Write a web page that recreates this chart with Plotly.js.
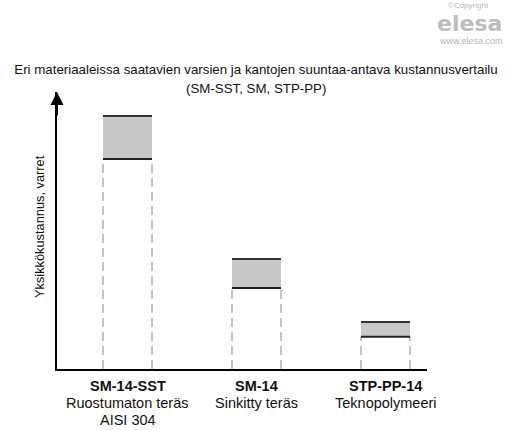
<!DOCTYPE html>
<html><head><meta charset="utf-8">
<script src="https://cdn.plot.ly/plotly-3.0.1.min.js"></script>
<style>html,body{margin:0;padding:0;background:#fff}</style>
</head><body><div id="chart" style="width:512px;height:430px"></div>
<script>
const codes = ["SM-14-SST", "SM-14", "STP-PP-14"];
const materials = ["Ruostumaton teräs", "Sinkitty teräs", "Teknopolymeeri"];
const extraLines = ["AISI 304", "", ""];
const costMin = [75.8, 29.2, 11.6];
const costMax = [91.3, 39.7, 17.0];
const titleLines = ["Eri materiaaleissa saatavien varsien ja kantojen suuntaa-antava kustannusvertailu", "(SM-SST, SM, STP-PP)"];
const yTitle = "Yksikkökustannus, varret";
const logoLines = ["©Copyright", "elesa", "www.elesa.com"];

const FONT = "Liberation Sans, Arial, sans-serif";
const idx = codes.map((_, i) => i);
const hw = 0.19;

const topX = [], topY = [], minX = [], minY = [], dashX = [], dashY = [];
idx.forEach(i => {
  topX.push(i - hw, i + hw, null); topY.push(costMax[i], costMax[i], null);
  minX.push(i - hw, i + hw, null); minY.push(costMin[i], costMin[i], null);
  dashX.push(i - hw, i - hw, null, i + hw, i + hw, null);
  dashY.push(0, costMin[i], null, 0, costMin[i], null);
});

const traces = [
  {type: 'bar', x: idx, base: costMin, y: costMax.map((v, i) => v - costMin[i]),
   width: 2 * hw, marker: {color: '#c8c8c8', line: {width: 0}}, hoverinfo: 'skip'},
  {type: 'scatter', mode: 'lines', x: dashX, y: dashY,
   line: {color: '#b0b0b0', width: 1.5, dash: '9px,5px'}, hoverinfo: 'skip'},
  {type: 'scatter', mode: 'lines', x: minX, y: minY,
   line: {color: '#222', width: 2}, hoverinfo: 'skip'},
  {type: 'scatter', mode: 'lines', x: topX, y: topY,
   line: {color: '#333', width: 2}, hoverinfo: 'skip'}
];

const labelFont = {family: FONT, size: 14.5, color: '#111'};
const annotations = [];
idx.forEach(i => {
  annotations.push({x: i, xref: 'x', y: 0, yref: 'paper', yanchor: 'middle', yshift: -17,
    text: '<b>' + codes[i] + '</b>', showarrow: false, font: labelFont});
  annotations.push({x: i, xref: 'x', y: 0, yref: 'paper', yanchor: 'middle', yshift: -33.5,
    text: materials[i], showarrow: false, font: labelFont});
  if (extraLines[i]) annotations.push({x: i, xref: 'x', y: 0, yref: 'paper', yanchor: 'middle', yshift: -50.5,
    text: extraLines[i], showarrow: false, font: labelFont});
});
annotations.push({x: 0, xref: 'paper', xanchor: 'center', xshift: -18, y: (369 - 227) / 277, yref: 'paper',
  yanchor: 'middle', text: yTitle, textangle: -90, showarrow: false,
  font: {family: FONT, size: 12.8, color: '#111'}});
// second title line
annotations.push({x: (256 - 57) / 370, xref: 'paper', xanchor: 'center', y: (369 - 88) / 277, yref: 'paper',
  yanchor: 'middle', text: titleLines[1], showarrow: false, font: {family: FONT, size: 13.3, color: '#111'}});
// arrow head on the y axis
annotations.push({x: -0.5465, xref: 'x', y: 100, yref: 'y', ax: 0, ay: 25, axref: 'pixel', ayref: 'pixel',
  showarrow: true, arrowhead: 2, arrowsize: 1.3, arrowwidth: 2, arrowcolor: '#000', text: '', standoff: 0});
// logo
annotations.push({x: (491 - 57) / 370, xref: 'paper', xanchor: 'right', y: (369 - 5) / 277, yref: 'paper', yanchor: 'middle',
  text: logoLines[0], showarrow: false, font: {family: FONT, size: 8, color: '#b5b5b5'}});
annotations.push({x: (504 - 57) / 370, xref: 'paper', xanchor: 'right', y: (369 - 23) / 277, yref: 'paper', yanchor: 'middle',
  text: '<b>' + logoLines[1] + '</b>', showarrow: false, font: {family: 'DejaVu Sans, Liberation Sans', size: 22, color: '#bdbdbd'}});
annotations.push({x: (505 - 57) / 370, xref: 'paper', xanchor: 'right', y: (369 - 41) / 277, yref: 'paper', yanchor: 'middle',
  text: logoLines[2], showarrow: false, font: {family: FONT, size: 9, color: '#b5b5b5'}});

const layout = {
  width: 512, height: 430,
  margin: {l: 57, r: 85, t: 92, b: 61},
  paper_bgcolor: '#fff', plot_bgcolor: '#fff',
  showlegend: false,
  title: {text: titleLines[0], x: 0.5, xref: 'container', xanchor: 'center',
    y: 1 - 69 / 430, yref: 'container', yanchor: 'middle',
    font: {family: FONT, size: 13.3, color: '#111'}},
  xaxis: {range: [-0.5465, 2.3217], showticklabels: false, showgrid: false, zeroline: false,
    showline: true, linecolor: '#000', linewidth: 2, ticks: '', fixedrange: true},
  yaxis: {range: [0, 100], showticklabels: false, showgrid: false, zeroline: false,
    showline: true, linecolor: '#000', linewidth: 2, ticks: '', fixedrange: true},
  annotations: annotations
};

Plotly.newPlot('chart', traces, layout, {displayModeBar: false, staticPlot: true});
</script></body></html>
